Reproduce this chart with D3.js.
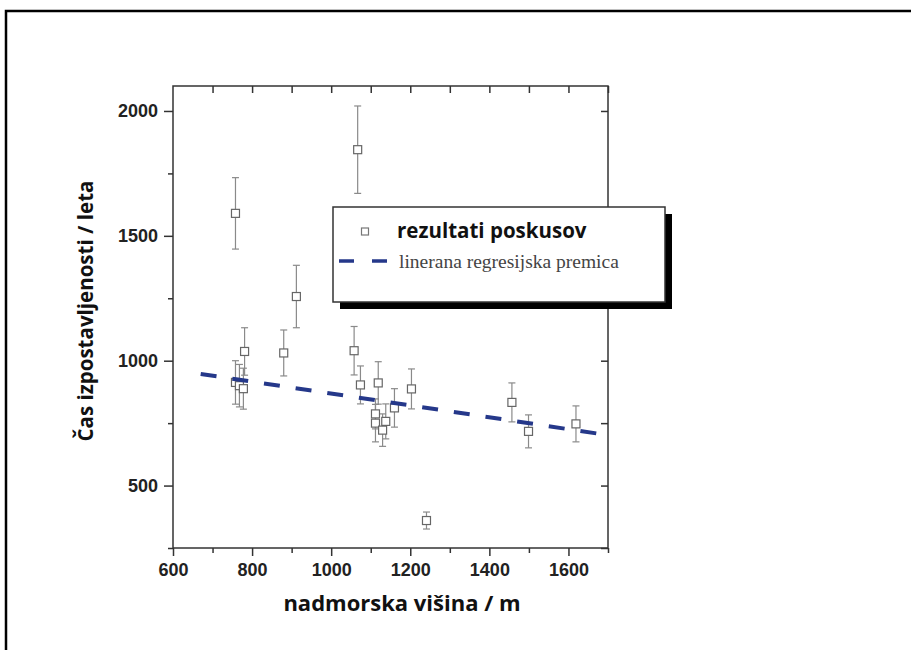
<!DOCTYPE html>
<html>
<head>
<meta charset="utf-8">
<script src="https://cdn.jsdelivr.net/npm/d3@7"></script>
<style>
  body { margin: 0; background: #fff; }
  svg { display: block; }
</style>
</head>
<body>
<svg id="chart"></svg>
<script>
const width = 911;
const height = 650;

// altitude (m), exposure time (years), error (years)
const altitude = [758, 1067, 912, 880, 781, 1058, 1074, 1119, 1203, 1160, 1457, 1499, 1619, 1241, 758, 768, 778, 1112, 1112, 1138, 1130];
const exposure = [1590, 1845, 1257, 1031, 1037, 1040, 903, 911, 887, 811, 833, 717, 747, 360, 913, 900, 888, 787, 750, 757, 722];
const errors = [143, 175, 125, 92, 95, 97, 76, 85, 80, 77, 78, 66, 72, 34, 87, 85, 82, 60, 75, 70, 65];

// regression line end points
const fitX = [670, 1700];
const fitY = [947, 702];

const xMajor = [600, 800, 1000, 1200, 1400, 1600];
const xMinor = [700, 900, 1100, 1300, 1500, 1700];
const yMajor = [500, 1000, 1500, 2000];
const yMinor = [250, 750, 1250, 1750];

const legendLabels = ["rezultati poskusov", "linerana regresijska premica"];

const plot = {left: 173, right: 608, top: 86, bottom: 548};

let data = altitude.map((a, i) => ({x: a, y: exposure[i], e: errors[i]}));

let xScale = d3.scaleLinear().domain([600, 1700]).range([plot.left, plot.right]);
let yScale = d3.scaleLinear().domain([250, 2100]).range([plot.bottom, plot.top]);

let svg = d3.select("#chart")
    .attr("width", width)
    .attr("height", height);

// outer frame
svg.append("rect")
    .attr("x", 6).attr("y", 11)
    .attr("width", 930).attr("height", 680)
    .attr("fill", "none")
    .attr("stroke", "#000")
    .attr("stroke-width", 2.5);

//error bars
let eb = svg.append("g").attr("stroke", "#8a8a8a").attr("stroke-width", 1.2);
eb.selectAll("line.v").data(data).enter().append("line")
    .attr("x1", d => xScale(d.x)).attr("x2", d => xScale(d.x))
    .attr("y1", d => yScale(d.y - d.e)).attr("y2", d => yScale(d.y + d.e));
eb.selectAll("line.t").data(data).enter().append("line")
    .attr("x1", d => xScale(d.x) - 3.5).attr("x2", d => xScale(d.x) + 3.5)
    .attr("y1", d => yScale(d.y + d.e)).attr("y2", d => yScale(d.y + d.e));
eb.selectAll("line.b").data(data).enter().append("line")
    .attr("x1", d => xScale(d.x) - 3.5).attr("x2", d => xScale(d.x) + 3.5)
    .attr("y1", d => yScale(d.y - d.e)).attr("y2", d => yScale(d.y - d.e));

// markers
svg.append("g").selectAll("rect").data(data).enter().append("rect")
    .attr("x", d => xScale(d.x) - 4)
    .attr("y", d => yScale(d.y) - 4)
    .attr("width", 8).attr("height", 8)
    .attr("fill", "#fff")
    .attr("stroke", "#666")
    .attr("stroke-width", 1.2);

// regression line
svg.append("line")
    .attr("x1", xScale(fitX[0])).attr("y1", yScale(fitY[0]))
    .attr("x2", xScale(fitX[1])).attr("y2", yScale(fitY[1]))
    .attr("stroke", "#25388a")
    .attr("stroke-width", 4)
    .attr("stroke-dasharray", "16,16");

// axes
function styleAxis(g) {
    g.select(".domain").remove();
    g.selectAll(".tick line").attr("stroke", "#333").attr("stroke-width", 1.5);
    g.selectAll(".tick text")
        .attr("fill", "#222")
        .style("font-family", "'Liberation Sans', Arial, sans-serif")
        .style("font-weight", "bold")
        .style("font-size", "18px");
}

svg.append("g").attr("transform", `translate(0, ${plot.bottom})`)
    .call(d3.axisBottom(xScale).tickValues(xMajor).tickSize(8).tickPadding(7).tickFormat(d3.format("d")))
    .call(styleAxis);
svg.append("g").attr("transform", `translate(0, ${plot.bottom})`)
    .call(d3.axisBottom(xScale).tickValues(xMinor).tickSize(5).tickFormat(""))
    .call(styleAxis);
svg.append("g").attr("transform", `translate(${plot.left}, 0)`)
    .call(d3.axisLeft(yScale).tickValues(yMajor).tickSize(9).tickPadding(6).tickFormat(d3.format("d")))
    .call(styleAxis);
svg.append("g").attr("transform", `translate(${plot.left}, 0)`)
    .call(d3.axisLeft(yScale).tickValues(yMinor).tickSize(5).tickFormat(""))
    .call(styleAxis);
// top and right, ticks pointing inward
svg.append("g").attr("transform", `translate(0, ${plot.top})`)
    .call(d3.axisTop(xScale).tickValues(xMajor.concat(xMinor).slice(1)).tickSize(-7).tickFormat(""))
    .call(styleAxis);
svg.append("g").attr("transform", `translate(${plot.right}, 0)`)
    .call(d3.axisRight(yScale).tickValues(yMajor.concat(yMinor).slice(0, 7)).tickSize(-7).tickFormat(""))
    .call(styleAxis);

svg.append("rect")
    .attr("x", plot.left).attr("y", plot.top)
    .attr("width", plot.right - plot.left).attr("height", plot.bottom - plot.top)
    .attr("fill", "none")
    .attr("stroke", "#333")
    .attr("stroke-width", 1.5);

// axis titles
svg.append("text")
    .attr("x", 402).attr("y", 611)
    .attr("text-anchor", "middle")
    .attr("fill", "#111")
    .style("font-family", "'Open Sans', sans-serif")
    .style("font-weight", "bold")
    .style("font-size", "22px")
    .text("nadmorska višina / m");

svg.append("text")
    .attr("transform", "translate(93, 311) rotate(-90)")
    .attr("text-anchor", "middle")
    .attr("fill", "#111")
    .style("font-family", "'Open Sans', sans-serif")
    .style("font-weight", "bold")
    .style("font-size", "20.5px")
    .text("Čas izpostavljenosti / leta");

// legend
let lg = svg.append("g").attr("transform", "translate(333, 207)");
lg.append("rect")
    .attr("x", 7).attr("y", 7).attr("width", 332).attr("height", 95)
    .attr("fill", "#000");
lg.append("rect")
    .attr("x", 0).attr("y", 0).attr("width", 332).attr("height", 95)
    .attr("fill", "#fff")
    .attr("stroke", "#333")
    .attr("stroke-width", 1.5);
lg.append("rect")
    .attr("x", 28.5).attr("y", 21).attr("width", 7).attr("height", 7)
    .attr("fill", "#fff")
    .attr("stroke", "#777")
    .attr("stroke-width", 1.2);
lg.append("text")
    .attr("x", 64).attr("y", 31)
    .attr("fill", "#111")
    .style("font-family", "'Open Sans', sans-serif")
    .style("font-weight", "bold")
    .style("font-size", "20.5px")
    .text(legendLabels[0]);
lg.append("line")
    .attr("x1", 6).attr("x2", 55).attr("y1", 54).attr("y2", 54)
    .attr("stroke", "#25388a")
    .attr("stroke-width", 3.5)
    .attr("stroke-dasharray", "15,18");
lg.append("text")
    .attr("x", 66).attr("y", 61)
    .attr("fill", "#444")
    .style("font-family", "'Liberation Serif', 'DejaVu Serif', serif")
    .style("font-size", "19.5px")
    .text(legendLabels[1]);
</script>
</body>
</html>
